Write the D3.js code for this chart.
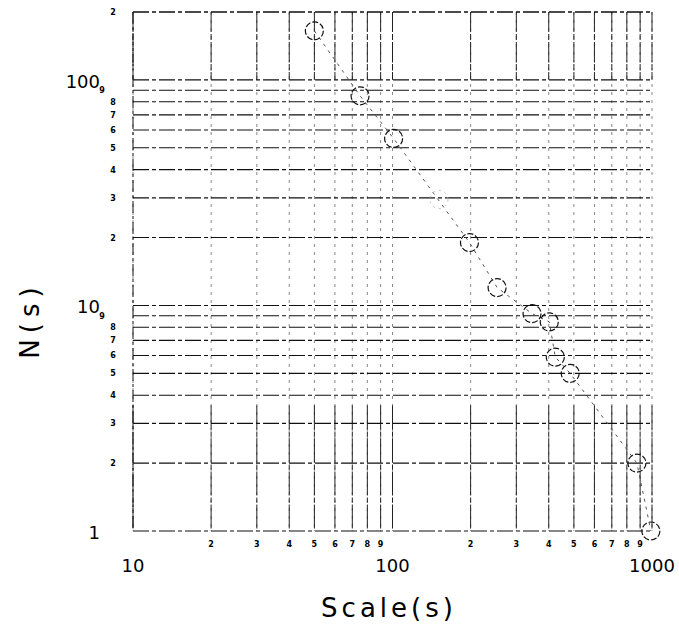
<!DOCTYPE html>
<html>
<head>
<meta charset="utf-8">
<script src="https://cdn.jsdelivr.net/npm/d3@7"></script>
<style>
  body { margin: 0; background: #fff; }
  svg { display: block; }
  text { fill: #000; }
</style>
</head>
<body>
<div id="chart"></div>
<script>
// box-counting data
const scaleS = [50, 75, 101, 198, 253, 345, 402, 424, 484, 875, 990]
const countN = [165, 85, 55, 19, 12, 9.2, 8.45, 5.9, 5.0, 2.0, 1.0]
const fadedS = [151]
const fadedN = [29.5]

const xMajor = [10, 100, 1000]
const yMajor = [1, 10, 100]
const minorDigits = [2, 3, 4, 5, 6, 7, 8, 9]

const W = 679, H = 629
const svg = d3.select('#chart').append('svg').attr('width', W).attr('height', H)

const x = d3.scaleLog().domain([10, 1000]).range([133, 652])
const y = d3.scaleLog().domain([1, 200]).range([531, 12])

const xGrid = []
;[10, 100].forEach(d => { for (let k = 1; k <= 9; k++) xGrid.push(d * k) })
xGrid.push(1000)
const yGrid = []
;[1, 10, 100].forEach(d => { for (let k = 1; k <= 9; k++) if (d * k <= 200) yGrid.push(d * k) })
yGrid.push(200)

const g = svg.append('g')

// vertical grid: faint dashed over the full height, solid in the top and bottom bands
g.selectAll('line.vfaint').data(xGrid).join('line')
  .attr('class', 'vfaint')
  .attr('x1', d => x(d)).attr('x2', d => x(d))
  .attr('y1', y(200)).attr('y2', y(1))
  .attr('stroke', '#888').attr('stroke-width', 1).attr('stroke-dasharray', '3,5')
g.selectAll('line.vtop').data(xGrid).join('line')
  .attr('class', 'vtop')
  .attr('x1', d => x(d)).attr('x2', d => x(d))
  .attr('y1', y(200)).attr('y2', y(100))
  .attr('stroke', '#222').attr('stroke-width', 1).attr('stroke-dasharray', '20,2,6,2')
g.selectAll('line.vbot').data(xGrid).join('line')
  .attr('class', 'vbot')
  .attr('x1', d => x(d)).attr('x2', d => x(d))
  .attr('y1', y(3.6)).attr('y2', y(1))
  .attr('stroke', '#222').attr('stroke-width', 1).attr('stroke-dasharray', '24,2,5,2')

// horizontal grid
g.selectAll('line.h').data(yGrid).join('line')
  .attr('class', 'h')
  .attr('x1', x(10)).attr('x2', x(1000))
  .attr('y1', d => y(d)).attr('y2', d => y(d))
  .attr('stroke', '#111').attr('stroke-width', 1.1).attr('stroke-dasharray', '16,3,4,3')

// frame side
g.append('line').attr('x1', x(10)).attr('x2', x(10)).attr('y1', y(200)).attr('y2', y(1))
  .attr('stroke', '#111').attr('stroke-dasharray', '12,3,3,3')

// minor tick labels on x
const xMinor = []
;[10, 100].forEach(d => minorDigits.forEach(k => xMinor.push({ v: d * k, k })))
svg.append('g').selectAll('text').data(xMinor).join('text')
  .attr('x', d => x(d.v)).attr('y', 547)
  .attr('text-anchor', 'middle')
  .style('font', 'bold 8px "DejaVu Sans", sans-serif')
  .text(d => d.k)

// major labels on x
svg.append('g').selectAll('text').data(xMajor).join('text')
  .attr('x', d => x(d)).attr('y', 572)
  .attr('text-anchor', 'middle')
  .style('font', '18px "DejaVu Sans", sans-serif')
  .text(d => d)

// minor tick labels on y
const yMinor = []
;[1, 10, 100].forEach(d => minorDigits.forEach(k => { if (d * k <= 200) yMinor.push({ v: d * k, k }) }))
svg.append('g').selectAll('text').data(yMinor).join('text')
  .attr('x', d => d.k === 9 ? 102 : 113).attr('y', d => y(d.v) + 3)
  .attr('text-anchor', 'middle')
  .style('font', 'bold 8px "DejaVu Sans", sans-serif')
  .text(d => d.k)

// major labels on y
svg.append('g').selectAll('text').data(yMajor).join('text')
  .attr('x', 100).attr('y', d => y(d) + 8)
  .attr('text-anchor', 'end')
  .style('font', '18px "DejaVu Sans", sans-serif')
  .text(d => d)

// dashed trace through the points
const line = d3.line().x((d, i) => x(scaleS[i])).y((d, i) => y(countN[i]))
svg.append('path').datum(scaleS).attr('d', line)
  .attr('fill', 'none').attr('stroke', '#555').attr('stroke-width', 1)
  .attr('stroke-dasharray', '3,5')

// faint point
svg.append('g').selectAll('circle').data(fadedS).join('circle')
  .attr('cx', d => x(d)).attr('cy', (d, i) => y(fadedN[i])).attr('r', 9)
  .attr('fill', 'none').attr('stroke', '#bbb').attr('stroke-dasharray', '2,4')

// points
svg.append('g').selectAll('circle').data(scaleS).join('circle')
  .attr('cx', d => x(d)).attr('cy', (d, i) => y(countN[i])).attr('r', 9)
  .attr('fill', 'none').attr('stroke', '#111').attr('stroke-width', 1.2)
  .attr('stroke-dasharray', '6,2')

// axis titles
svg.append('text').attr('x', 389).attr('y', 617).attr('text-anchor', 'middle')
  .style('font', '26px "DejaVu Sans", sans-serif').style('letter-spacing', '4px')
  .text('Scale(s)')
svg.append('text').attr('transform', 'translate(39,320) rotate(-90)').attr('text-anchor', 'middle')
  .style('font', '26px "DejaVu Sans", sans-serif').style('letter-spacing', '6px')
  .text('N(s)')
</script>
</body>
</html>
